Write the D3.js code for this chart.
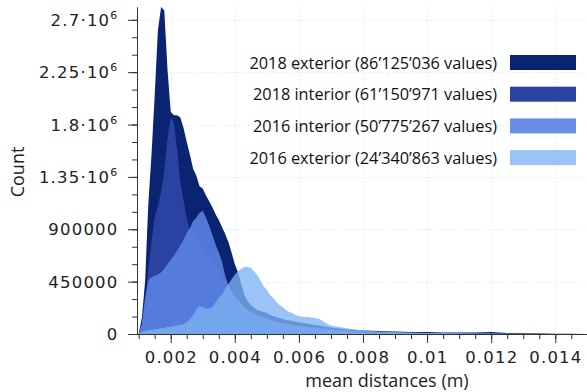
<!DOCTYPE html>
<html><head><meta charset="utf-8">
<script src="https://cdn.jsdelivr.net/npm/d3@7"></script>
<style>
body{margin:0;background:#fff;overflow:hidden}
.tick-label{font-family:'DejaVu Sans', Verdana, sans-serif;letter-spacing:1.2px;}
.lab{font-family:'Open Sans', sans-serif;}
</style>
</head><body><svg id="c" width="587" height="392"></svg>
<script>
// bin positions (mean distance, m)
const bins = [
  0.0010,0.0011,0.0012,0.0013,0.0014,0.0015,0.0016,0.0017,0.0018,0.0019,
  0.0020,0.0021,0.0022,0.0023,0.0024,0.0025,0.0026,0.0027,0.0028,0.0029,
  0.0030,0.0031,0.0032,0.0033,0.0034,0.0035,0.0036,0.0037,0.0038,0.0039,
  0.0040,0.0041,0.0042,0.0043,0.0044,0.0045,0.0046,0.0047,0.0048,0.0049,
  0.0050,0.0051,0.0052,0.0053,0.0054,0.0055,0.0056,0.0057,0.0058,0.0059,
  0.0060,0.0061,0.0062,0.0063,0.0064,0.0065,0.0066,0.0067,0.0068,0.0069,
  0.0070,0.0075,0.0080,0.0085,0.0090,0.0095,0.0100,0.0105,0.0110,0.0115,
  0.0120,0.0125,0.0130,0.0135,0.0140,0.0145,0.0150
];
// counts
const ext2018 = [
  0,140000,450000,1110000,1540000,2050000,2610000,2810000,2780000,2270000,
  1910000,1880000,1880000,1860000,1770000,1650000,1540000,1420000,1360000,1270000,
  1250000,1190000,1140000,1090000,1030000,980000,920000,860000,790000,700000,
  600000,530000,430000,335000,283000,250000,223000,206000,198000,190000,
  180000,163000,155000,146000,137000,129000,120000,116000,112000,103000,
  99000,94000,90000,86000,82000,77000,73000,69000,64000,60000,
  56000,39000,30000,26000,21000,17000,17000,13000,13000,13000,
  17000,9000,7000,4000,3000,2000,1000
];
const int2018 = [
  0,50000,250000,550000,800000,1000000,1100000,1220000,1400000,1680000,
  1860000,1810000,1580000,1300000,1150000,1000000,890000,850000,820000,780000,
  740000,700000,660000,620000,580000,540000,500000,460000,410000,350000,
  310000,280000,250000,225000,200000,180000,165000,150000,140000,130000,
  120000,110000,100000,95000,90000,85000,80000,75000,70000,66000,
  62000,58000,55000,52000,49000,46000,43000,40000,38000,36000,
  34000,26000,19000,14000,11000,9000,7000,6000,5000,4000,
  4000,3000,2000,2000,1000,1000,0
];
const int2016 = [
  0,90000,310000,460000,490000,500000,510000,530000,560000,600000,
  640000,670000,720000,760000,810000,870000,910000,970000,1000000,1040000,
  1060000,1000000,930000,850000,770000,700000,620000,500000,420000,360000,
  320000,290000,260000,235000,210000,190000,175000,160000,150000,140000,
  130000,120000,110000,105000,100000,95000,90000,85000,80000,76000,
  72000,68000,64000,60000,57000,54000,51000,48000,45000,42000,
  40000,30000,22000,16000,12000,9000,7000,5000,4000,3000,
  3000,2000,1000,1000,1000,0,0
];
const ext2016 = [
  0,20000,26000,34000,34000,43000,43000,50000,50000,60000,
  60000,70000,73000,77000,86000,100000,130000,160000,210000,240000,
  230000,220000,220000,230000,270000,310000,340000,390000,430000,470000,
  510000,540000,560000,575000,575000,570000,540000,510000,460000,410000,
  380000,335000,310000,275000,250000,230000,205000,190000,180000,163000,
  155000,146000,146000,146000,142000,137000,133000,120000,103000,86000,
  73000,50000,30000,21000,17000,13000,9000,8000,6000,5000,
  4000,3000,2000,1000,1000,500,0
];
const seriesNames = [
  "2018 exterior (86\u2019125\u2019036 values)",
  "2018 interior (61\u2019150\u2019971 values)",
  "2016 interior (50\u2019775\u2019267 values)",
  "2016 exterior (24\u2019340\u2019863 values)"
];
const seriesValues = [ext2018, int2018, int2016, ext2016];
const seriesColors = ["#0b2472", "#2a43a3", "#5a82e2", "#7db2f3"];
const seriesOpacity = [1, 1, 0.9, 0.78];

const yTickValues = [0, 450000, 900000, 1350000, 1800000, 2250000, 2700000];
const yTickLabels = [["0",""],["450000",""],["900000",""],["1.35\u00b710","6"],["1.8\u00b710","6"],["2.25\u00b710","6"],["2.7\u00b710","6"]];
const xTickValues = [0.002, 0.004, 0.006, 0.008, 0.010, 0.012, 0.014];
const xTickLabels = ["0.002","0.004","0.006","0.008","0.01","0.012","0.014"];

const svg = d3.select("#c");
const mLeft = 137, mRight = 587, mTop = 7, mBottom = 334;
const x = d3.scaleLinear().domain([0.000948, 0.01499]).range([mLeft, mRight]);
const y = d3.scaleLinear().domain([0, 2810000]).range([mBottom, mTop]);

// grid
const grid = svg.append("g").attr("stroke", "#e4e4e4").attr("stroke-dasharray", "1,2").attr("stroke-width", 1);
grid.selectAll(".gx").data(xTickValues).join("line")
  .attr("x1", d => Math.round(x(d)) + 0.5).attr("x2", d => Math.round(x(d)) + 0.5)
  .attr("y1", mTop).attr("y2", mBottom);
grid.selectAll(".gy").data(yTickValues.slice(1)).join("line")
  .attr("y1", d => Math.round(y(d)) + 0.5).attr("y2", d => Math.round(y(d)) + 0.5)
  .attr("x1", mLeft).attr("x2", mRight);

// areas
const area = d3.area()
  .x((d, i) => x(bins[i]))
  .y0(y(0))
  .y1(d => y(d));
const plot = svg.append("g");
seriesValues.forEach((vals, k) => {
  plot.append("path").datum(vals)
    .attr("d", area)
    .attr("fill", seriesColors[k])
    .attr("fill-opacity", seriesOpacity[k]);
});

// axes
const yMinor = d3.range(0, 2800001, 150000);
const xMinor = d3.range(0.0010, 0.01491, 0.0005);
const axStyle = g => { g.selectAll("path,line").attr("stroke", "#333"); g.selectAll("text").remove(); };
svg.append("g").attr("transform", `translate(${mLeft},0)`)
  .call(d3.axisLeft(y).tickValues(yMinor).tickSize(5).tickSizeOuter(0).tickFormat("")).call(axStyle);
svg.append("g").attr("transform", `translate(${mLeft},0)`)
  .call(d3.axisLeft(y).tickValues(yTickValues).tickSize(9).tickSizeOuter(0).tickFormat("")).call(axStyle);
svg.append("g").attr("transform", `translate(0,${mBottom})`)
  .call(d3.axisBottom(x).tickValues(xMinor).tickSize(5).tickSizeOuter(0).tickFormat("")).call(axStyle);
svg.append("g").attr("transform", `translate(0,${mBottom})`)
  .call(d3.axisBottom(x).tickValues(xTickValues).tickSize(9).tickSizeOuter(0).tickFormat("")).call(axStyle);

// tick labels
yTickValues.forEach((v, i) => {
  const t = svg.append("text").attr("class", "tick-label").attr("x", 118.5).attr("y", y(v) + 6)
    .attr("text-anchor", "end").attr("font-size", 16.5).attr("fill", "#222");
  t.append("tspan").text(yTickLabels[i][0]);
  if (yTickLabels[i][1]) t.append("tspan").attr("font-size", 11).attr("dy", -7).text(yTickLabels[i][1]);
});
xTickValues.forEach((v, i) => {
  svg.append("text").attr("class", "tick-label").attr("x", x(v) + 0.6).attr("y", 363)
    .attr("text-anchor", "middle").attr("font-size", 16.5).attr("fill", "#222")
    .text(xTickLabels[i]);
});

// axis titles
svg.append("text").attr("class", "lab").attr("transform", "translate(24,172) rotate(-90)")
  .attr("text-anchor", "middle").attr("font-size", 18).attr("fill", "#222").text("Count");
svg.append("text").attr("class", "lab").attr("x", 387).attr("y", 387)
  .attr("text-anchor", "middle").attr("font-size", 18).attr("fill", "#222").text("mean distances (m)");

// legend
seriesNames.forEach((name, i) => {
  const cy = 62.5 + i * 31.7;
  svg.append("text").attr("class", "lab").attr("x", 497).attr("y", cy + 6)
    .attr("text-anchor", "end").attr("font-size", 16.3).attr("fill", "#111").text(name);
  svg.append("rect").attr("x", 510).attr("y", cy - 7.5).attr("width", 66).attr("height", 15)
    .attr("fill", seriesColors[i]).attr("fill-opacity", seriesOpacity[i]);
});
</script>
</body></html>
